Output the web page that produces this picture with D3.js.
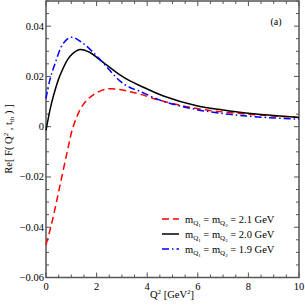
<!DOCTYPE html>
<html lang="en">
<head>
  <meta charset="utf-8">
  <title>Re F(Q2, tth)</title>
  <script type="text/javascript" src="https://cdn.jsdelivr.net/npm/d3@7/dist/d3.min.js"></script>
  <style>
    body { margin: 0; background: #fff; }
    svg text { font-family: "Liberation Serif", "Times New Roman", "DejaVu Serif", serif; fill: #000; }
  </style>
</head>
<body>
  <script type="text/javascript">

  // values
  var xTicks = [0, 2, 4, 6, 8, 10];
  var yTicks = [-0.06, -0.04, -0.02, 0, 0.02, 0.04];

  var red = [
    [0, -0.047], [0.15, -0.0415], [0.3, -0.0352], [0.55, -0.0235], [0.85, -0.0095],
    [1.08, 0.0002], [1.47, 0.0088], [1.87, 0.0127], [2.4, 0.015], [2.92, 0.0148],
    [3.32, 0.0139], [3.72, 0.0129], [4.64, 0.0101], [5.96, 0.0072], [7.27, 0.0056],
    [8.5, 0.0046], [10, 0.0037]
  ];
  var black = [
    [0, -0.0015], [0.16, 0.0068], [0.29, 0.0121], [0.55, 0.0203], [0.95, 0.028],
    [1.34, 0.0307], [1.7, 0.0297], [2.13, 0.0266], [2.92, 0.0206], [3.32, 0.0182],
    [3.72, 0.0163], [4.64, 0.0122], [5.96, 0.0083], [6.88, 0.0068], [7.27, 0.0062],
    [8.5, 0.0048], [10, 0.0037]
  ];
  var blue = [
    [0, 0.0112], [0.15, 0.0185], [0.36, 0.0252], [0.68, 0.0331], [1.01, 0.0356],
    [1.47, 0.0331], [2.13, 0.0268], [2.92, 0.0182], [3.32, 0.0156], [3.65, 0.0143],
    [4.64, 0.0101], [5.96, 0.0068], [7.27, 0.0049], [8.5, 0.0038], [10, 0.003]
  ];

  var series = [
    { data: red, color: "#ff0000", dash: "7,4", mass: "2.1" },
    { data: black, color: "#000000", dash: null, mass: "2.0" },
    { data: blue, color: "#0000ff", dash: "7,3,1.5,3", mass: "1.9" }
  ];

  var W = 305, H = 305;
  var padL = 46, padR = 299, padT = 1, padB = 277.5;

  var x = d3.scaleLinear().domain([0, 10]).range([padL, padR]);
  var y = d3.scaleLinear().domain([-0.06, 0.05]).range([padB, padT]);

  var svg = d3.select("body").append("svg")
    .attr("width", W).attr("height", H);

  // inward ticks on all four sides
  var axisColor = "#555";
  var minorX = d3.range(0, 10.01, 0.5);
  var minorY = d3.range(-0.06, 0.0501, 0.005);

  var ticks = svg.append("g").attr("stroke", axisColor).attr("stroke-width", 1);
  minorX.forEach(function(v) {
    var len = Math.abs(v % 2) < 1e-6 ? 5 : 3;
    ticks.append("line").attr("x1", x(v)).attr("x2", x(v)).attr("y1", padB).attr("y2", padB - len);
    ticks.append("line").attr("x1", x(v)).attr("x2", x(v)).attr("y1", padT).attr("y2", padT + len);
  });
  minorY.forEach(function(v) {
    var k = Math.round(v / 0.005);
    var len = k % 4 === 0 ? 5 : 3;
    ticks.append("line").attr("y1", y(v)).attr("y2", y(v)).attr("x1", padL).attr("x2", padL + len);
    ticks.append("line").attr("y1", y(v)).attr("y2", y(v)).attr("x1", padR).attr("x2", padR - len);
  });

  svg.append("rect")
    .attr("x", padL).attr("y", padT)
    .attr("width", padR - padL).attr("height", padB - padT)
    .attr("fill", "none").attr("stroke", axisColor).attr("stroke-width", 1.5);

  // tick labels
  svg.append("g").selectAll("text").data(xTicks).enter().append("text")
    .attr("x", d => x(d)).attr("y", padB + 12)
    .attr("text-anchor", "middle").attr("font-size", 10.5)
    .text(d => d);

  svg.append("g").selectAll("text").data(yTicks).enter().append("text")
    .attr("x", padL - 2).attr("y", d => y(d) + 3.5)
    .attr("text-anchor", "end").attr("font-size", 10.5)
    .text(d => d === 0 ? "0" : d3.format(".2f")(d));

  // curves
  var line = d3.line()
    .x(d => x(d[0])).y(d => y(d[1]))
    .curve(d3.curveCatmullRom.alpha(0.5));

  series.forEach(function(s) {
    svg.append("path")
      .attr("d", line(s.data))
      .attr("fill", "none")
      .attr("stroke", s.color)
      .attr("stroke-width", 1.5)
      .attr("stroke-dasharray", s.dash);
  });

  // axis titles
  var xl = svg.append("text")
    .attr("x", 172).attr("y", 298)
    .attr("text-anchor", "middle").attr("font-size", 10.5);
  xl.append("tspan").text("Q");
  xl.append("tspan").attr("dy", -4).attr("font-size", 7).text("2");
  xl.append("tspan").attr("dy", 4).text(" [GeV");
  xl.append("tspan").attr("dy", -4).attr("font-size", 7).text("2");
  xl.append("tspan").attr("dy", 4).text("]");

  var yl = svg.append("text")
    .attr("transform", "translate(12,139) rotate(-90)")
    .attr("text-anchor", "middle").attr("font-size", 10.5);
  yl.append("tspan").text("Re[ F( Q");
  yl.append("tspan").attr("dy", -4).attr("font-size", 7).text("2");
  yl.append("tspan").attr("dy", 4).text(" , t");
  yl.append("tspan").attr("dy", 2).attr("font-size", 7).text("th");
  yl.append("tspan").attr("dy", -2).text(" ) ]");

  svg.append("text")
    .attr("x", 276).attr("y", 25)
    .attr("text-anchor", "middle").attr("font-size", 10)
    .text("(a)");

  // legend
  var legend = svg.append("g");
  series.forEach(function(s, i) {
    var ly = 219 + i * 15;
    legend.append("line")
      .attr("x1", 162).attr("x2", 179).attr("y1", ly).attr("y2", ly)
      .attr("stroke", s.color).attr("stroke-width", 1.5)
      .attr("stroke-dasharray", s.dash);
    var t = legend.append("text")
      .attr("x", 185).attr("y", ly + 3.5).attr("font-size", 10.5);
    t.append("tspan").text("m");
    t.append("tspan").attr("dy", 2.5).attr("font-size", 7).text("Q");
    t.append("tspan").attr("dy", 1.5).attr("font-size", 5).text("1");
    t.append("tspan").attr("dy", -4).text(" = m");
    t.append("tspan").attr("dy", 2.5).attr("font-size", 7).text("Q");
    t.append("tspan").attr("dy", 1.5).attr("font-size", 5).text("2");
    t.append("tspan").attr("dy", -4).text(" = " + s.mass + " GeV");
  });

  </script>
</body>
</html>
